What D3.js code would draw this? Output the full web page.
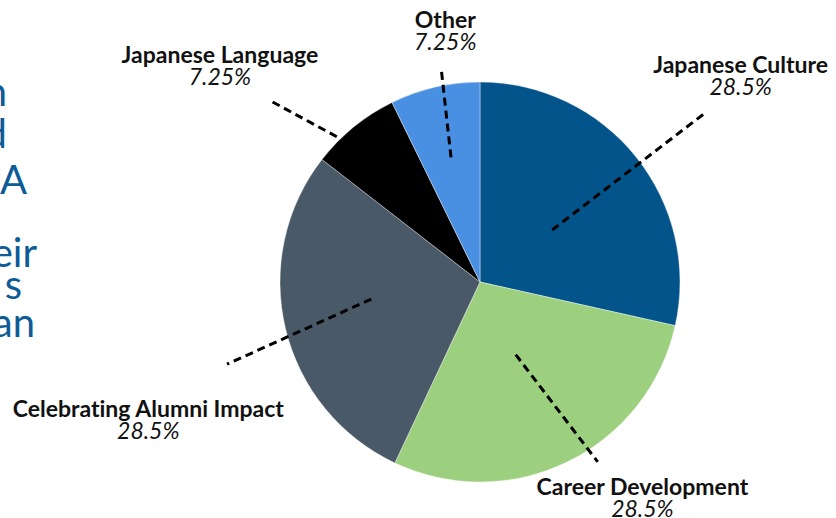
<!DOCTYPE html>
<html>
<head>
<meta charset="utf-8">
<script src="https://cdnjs.cloudflare.com/ajax/libs/d3/7.8.5/d3.min.js"></script>
<style>
  body { margin: 0; background: #fff; overflow: hidden; }
  svg { display: block; }
  text { font-variant-ligatures: none; }
</style>
</head>
<body>
<div id="chart"></div>
<script>
// data
var categories = ["Japanese Culture", "Career Development", "Celebrating Alumni Impact", "Japanese Language", "Other"];
var shares = [28.5, 28.5, 28.5, 7.25, 7.25];
var sliceColors = ["#02548a", "#9dd07e", "#4a5968", "#000000", "#4a90e2"];

// cut-off title fragments on the left edge
var titleBits = ["n", "d", "A", "eir", "s", "an"];

// label layout (degrees clockwise from 12 o'clock, radius from pie centre)
var labelAngle = [51.3, 142.7, 247.9, 310.1, 352.2];
var labelRadius = [334, 268, 358, 340, 256];
// leader lines: start angle/radius, end angle/radius
var leaderFrom = [[54.2, 89], [153.8, 81], [261.1, 110], [315.4, 204], [346.9, 128]];
var leaderTo = [[53.1, 281], [146.8, 215], [252, 266], [310.9, 276], [349.7, 217]];

var width = 836, height = 518;
var cx = 480, cy = 282, radius = 200;
var rad = Math.PI / 180;

var svg = d3.select("#chart").append("svg")
  .attr("width", width)
  .attr("height", height);

// title, mostly off screen
var titleY = [106, 148, 194, 267, 299, 337];
var titleRight = [7, 7, 27, 37, 22, 35];
svg.append("g")
  .selectAll("text")
  .data(titleBits)
  .enter()
  .append("text")
    .attr("x", function(d, i) { return titleRight[i]; })
    .attr("y", function(d, i) { return titleY[i]; })
    .attr("text-anchor", "end")
    .style("font-family", "Lato, sans-serif")
    .style("font-size", "40px")
    .style("fill", "#0d5b97")
    .text(function(d) { return d; });

var pie = d3.pie().sort(null).value(function(d) { return d; });
var arc = d3.arc().innerRadius(0).outerRadius(radius);

var g = svg.append("g").attr("transform", "translate(" + cx + "," + cy + ")");

g.selectAll("path")
  .data(pie(shares))
  .enter()
  .append("path")
    .attr("d", arc)
    .attr("fill", function(d, i) { return sliceColors[i]; })
    .style("stroke", "#fff")
    .style("stroke-width", 0.4);

// leader lines
g.selectAll("line.leader")
  .data(categories)
  .enter()
  .append("line")
    .attr("class", "leader")
    .attr("x1", function(d, i) { return d3.pointRadial(leaderFrom[i][0] * rad, leaderFrom[i][1])[0]; })
    .attr("y1", function(d, i) { return d3.pointRadial(leaderFrom[i][0] * rad, leaderFrom[i][1])[1]; })
    .attr("x2", function(d, i) { return d3.pointRadial(leaderTo[i][0] * rad, leaderTo[i][1])[0]; })
    .attr("y2", function(d, i) { return d3.pointRadial(leaderTo[i][0] * rad, leaderTo[i][1])[1]; })
    .style("stroke", "#000")
    .style("stroke-width", 3)
    .style("stroke-dasharray", "8,5");

// labels
var lab = g.selectAll("g.label")
  .data(categories)
  .enter()
  .append("g")
    .attr("class", "label")
    .attr("transform", function(d, i) {
      var p = d3.pointRadial(labelAngle[i] * rad, labelRadius[i]);
      return "translate(" + p[0] + "," + p[1] + ")";
    });

lab.append("text")
  .attr("text-anchor", "middle")
  .style("font-family", "Lato, sans-serif")
  .style("font-weight", "bold")
  .style("font-size", "23px")
  .style("fill", "#111")
  .text(function(d) { return d; });

lab.append("text")
  .attr("text-anchor", "middle")
  .attr("y", 22)
  .style("font-family", "Lato, sans-serif")
  .style("font-style", "italic")
  .style("font-size", "23px")
  .style("fill", "#111")
  .text(function(d, i) { return shares[i] + "%"; });
</script>
</body>
</html>
